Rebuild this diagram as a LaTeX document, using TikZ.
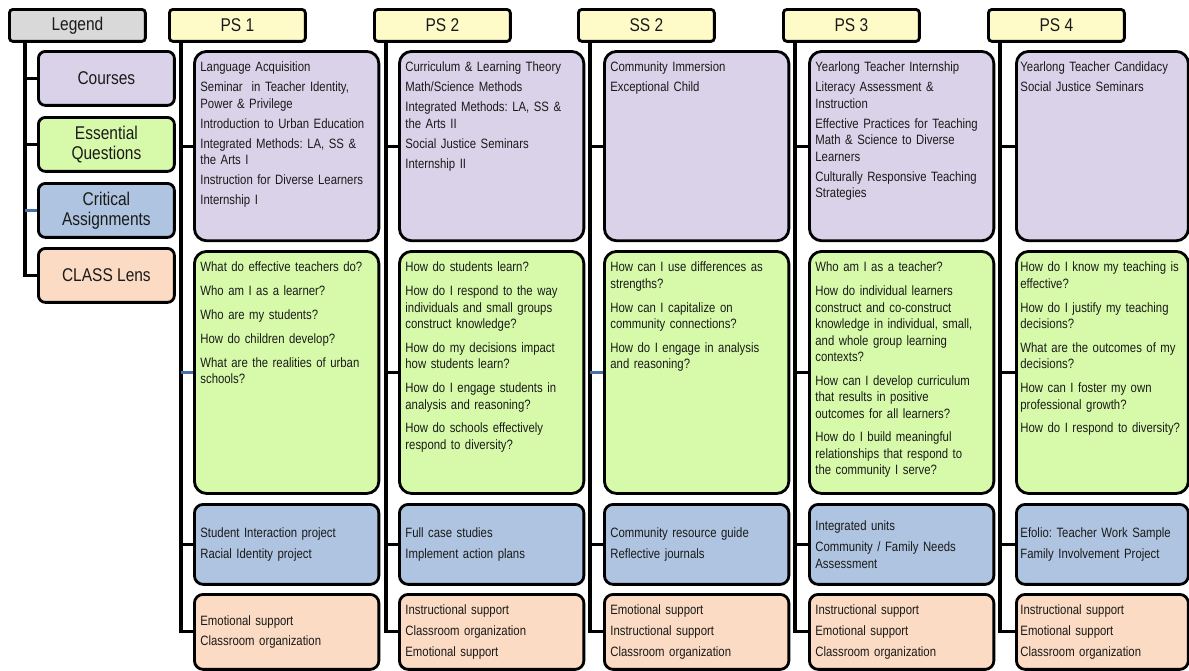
\documentclass[tikz,border=0pt]{standalone}
\usepackage{fontspec}
\setmainfont[FakeStretch=0.84]{Liberation Sans}
\usetikzlibrary{positioning,calc}

\definecolor{hdryellow}{HTML}{FFFBC9}
\definecolor{leggray}{HTML}{D9D9D9}
\definecolor{coursepurple}{HTML}{D9D2E9}
\definecolor{questgreen}{HTML}{D7FAAA}
\definecolor{assignblue}{HTML}{AFC4E0}
\definecolor{lenspeach}{HTML}{FBDBC3}
\definecolor{tintblue}{HTML}{4A6FA5}
\definecolor{txt}{HTML}{1A1A1A}

\frenchspacing
\hyphenpenalty=10000

\tikzset{
  trunk/.style={draw=black, line width=1.8pt, line join=miter},
  tint/.style={draw=tintblue, line width=1.3pt}
}

\begin{document}
\begin{tikzpicture}[
  x=0.02cm, y=-0.02cm,
  hdr/.style={draw, line width=1.6pt, rounded corners=2pt, fill=hdryellow,
              anchor=north west, minimum width=2.72cm, minimum height=0.64cm,
              inner sep=0pt, text=txt, font=\fontsize{10.5}{12}\selectfont},
  legbox/.style={draw, line width=1.6pt, rounded corners=4pt, anchor=north west,
                 minimum width=2.72cm, minimum height=1.08cm, inner sep=0pt,
                 align=center, text=txt, font=\fontsize{10.5}{11.4}\selectfont},
  box/.style={draw, line width=1.6pt, anchor=north west, align=left,
              text width=3.45cm, inner xsep=0.12cm, inner ysep=0.2cm, text=txt,
              font=\fontsize{7.7}{9.35}\selectfont},
  course/.style={box, fill=coursepurple, rounded corners=7pt,
                 text height=6pt, text depth=90.4pt},
  quest/.style={box, fill=questgreen, rounded corners=7pt,
                text height=6pt, text depth=120.4pt},
  assign/.style={box, fill=assignblue, rounded corners=5pt, minimum height=1.6cm},
  lens/.style={box, fill=lenspeach, rounded corners=5pt, minimum height=1.5cm},
  last/.style={text width=3.28cm, inner xsep=0.08cm}
]
\useasboundingbox (0,0) rectangle (1189,670);

% legend
\node[hdr, fill=leggray] (legend) at (8,8) {Legend};
\node[legbox, fill=coursepurple] (lcourse) at (37,50)  {Courses};
\node[legbox, fill=questgreen]   (lquest)  at (37,116) {Essential\\Questions};
\node[legbox, fill=assignblue]   (lassign) at (37,182) {Critical\\Assignments};
\node[legbox, fill=lenspeach]    (llens)   at (37,247) {CLASS Lens};

\coordinate (s0) at ([xshift=0.34cm]legend.south west);
\draw[trunk] (s0) |- (llens.west);
\draw[trunk] (s0 |- lcourse.west) -- (lcourse.west);
\draw[trunk] (s0 |- lquest.west) -- (lquest.west);
\draw[tint]  (s0 |- lassign.west) -- (lassign.west);

% PS 1
\node[hdr] (ps1) at (168,8) {PS 1};
\node[course] (ps1c) at (193,50) {Language Acquisition\\[2pt]
  Seminar\ \ in Teacher Identity,\\Power \& Privilege\\[2pt]
  Introduction to Urban Education\\[2pt]
  Integrated Methods: LA, SS \&\\the Arts I\\[2pt]
  Instruction for Diverse Learners\\[2pt]
  Internship I};
\node[quest] (ps1q) at (193,250) {What do effective teachers do?\\[4.2pt]
  Who am I as a learner?\\[4.2pt]
  Who are my students?\\[4.2pt]
  How do children develop?\\[4.2pt]
  What are the realities of urban\\schools?};
\node[assign] (ps1a) at (193,503) {Student Interaction project\\[3pt]
  Racial Identity project};
\node[lens] (ps1l) at (193,593) {Emotional support\\[2.5pt]
  Classroom organization};

\coordinate (s1) at ([xshift=0.26cm]ps1.south west);
\draw[trunk] (s1) |- (ps1l.west);
\draw[trunk] (s1 |- ps1c.west) -- (ps1c.west);
\draw[tint]  (s1 |- ps1q.west) -- (ps1q.west);
\draw[trunk] (s1 |- ps1a.west) -- (ps1a.west);

% PS 2
\node[hdr] (ps2) at (373,8) {PS 2};
\node[course] (ps2c) at (398,50) {Curriculum \& Learning Theory\\[2pt]
  Math/Science Methods\\[2pt]
  Integrated Methods: LA, SS \&\\the Arts II\\[2pt]
  Social Justice Seminars\\[2pt]
  Internship II};
\node[quest] (ps2q) at (398,250) {How do students learn?\\[4.2pt]
  How do I respond to the way\\individuals and small groups\\construct knowledge?\\[4.2pt]
  How do my decisions impact\\how students learn?\\[4.2pt]
  How do I engage students in\\analysis and reasoning?\\[4.2pt]
  How do schools effectively\\respond to diversity?};
\node[assign] (ps2a) at (398,503) {Full case studies\\[3pt]
  Implement action plans};
\node[lens] (ps2l) at (398,593) {Instructional support\\[2.5pt]
  Classroom organization\\[2.5pt]
  Emotional support};

\coordinate (s2) at ([xshift=0.26cm]ps2.south west);
\draw[trunk] (s2) |- (ps2l.west);
\draw[trunk] (s2 |- ps2c.west) -- (ps2c.west);
\draw[trunk] (s2 |- ps2q.west) -- (ps2q.west);
\draw[trunk] (s2 |- ps2a.west) -- (ps2a.west);

% SS 2
\node[hdr] (ss2) at (577,8) {SS 2};
\node[course] (ss2c) at (603,50) {Community Immersion\\[2pt]
  Exceptional Child};
\node[quest] (ss2q) at (603,250) {How can I use differences as\\strengths?\\[4.2pt]
  How can I capitalize on\\community connections?\\[4.2pt]
  How do I engage in analysis\\and reasoning?};
\node[assign] (ss2a) at (603,503) {Community resource guide\\[3pt]
  Reflective journals};
\node[lens] (ss2l) at (603,593) {Emotional support\\[2.5pt]
  Instructional support\\[2.5pt]
  Classroom organization};

\coordinate (s3) at ([xshift=0.26cm]ss2.south west);
\draw[trunk] (s3) |- (ss2l.west);
\draw[trunk] (s3 |- ss2c.west) -- (ss2c.west);
\draw[tint]  (s3 |- ss2q.west) -- (ss2q.west);
\draw[trunk] (s3 |- ss2a.west) -- (ss2a.west);

% PS 3
\node[hdr] (ps3) at (782,8) {PS 3};
\node[course] (ps3c) at (808,50) {Yearlong Teacher Internship\\[2pt]
  Literacy Assessment \&\\Instruction\\[2pt]
  Effective Practices for Teaching\\Math \& Science to Diverse\\Learners\\[2pt]
  Culturally Responsive Teaching\\Strategies};
\node[quest] (ps3q) at (808,250) {Who am I as a teacher?\\[4.2pt]
  How do individual learners\\construct and co-construct\\knowledge in individual, small,\\and whole group learning\\contexts?\\[4.2pt]
  How can I develop curriculum\\that results in positive\\outcomes for all learners?\\[4.2pt]
  How do I build meaningful\\relationships that respond to\\the community I serve?};
\node[assign] (ps3a) at (808,503) {Integrated units\\[3pt]
  Community / Family Needs\\Assessment};
\node[lens] (ps3l) at (808,593) {Instructional support\\[2.5pt]
  Emotional support\\[2.5pt]
  Classroom organization};

\coordinate (s4) at ([xshift=0.26cm]ps3.south west);
\draw[trunk] (s4) |- (ps3l.west);
\draw[trunk] (s4 |- ps3c.west) -- (ps3c.west);
\draw[trunk] (s4 |- ps3q.west) -- (ps3q.west);
\draw[trunk] (s4 |- ps3a.west) -- (ps3a.west);

% PS 4
\node[hdr] (ps4) at (987,8) {PS 4};
\node[course, last] (ps4c) at (1015,50) {Yearlong Teacher Candidacy\\[2pt]
  Social Justice Seminars};
\node[quest, last] (ps4q) at (1015,250) {How do I know my teaching is\\effective?\\[4.2pt]
  How do I justify my teaching\\decisions?\\[4.2pt]
  What are the outcomes of my\\decisions?\\[4.2pt]
  How can I foster my own\\professional growth?\\[4.2pt]
  How do I respond to diversity?};
\node[assign, last] (ps4a) at (1015,503) {Efolio: Teacher Work Sample\\[3pt]
  Family Involvement Project};
\node[lens, last] (ps4l) at (1015,593) {Instructional support\\[2.5pt]
  Emotional support\\[2.5pt]
  Classroom organization};

\coordinate (s5) at ([xshift=0.26cm]ps4.south west);
\draw[trunk] (s5) |- (ps4l.west);
\draw[trunk] (s5 |- ps4c.west) -- (ps4c.west);
\draw[trunk] (s5 |- ps4q.west) -- (ps4q.west);
\draw[trunk] (s5 |- ps4a.west) -- (ps4a.west);

\end{tikzpicture}
\end{document}
